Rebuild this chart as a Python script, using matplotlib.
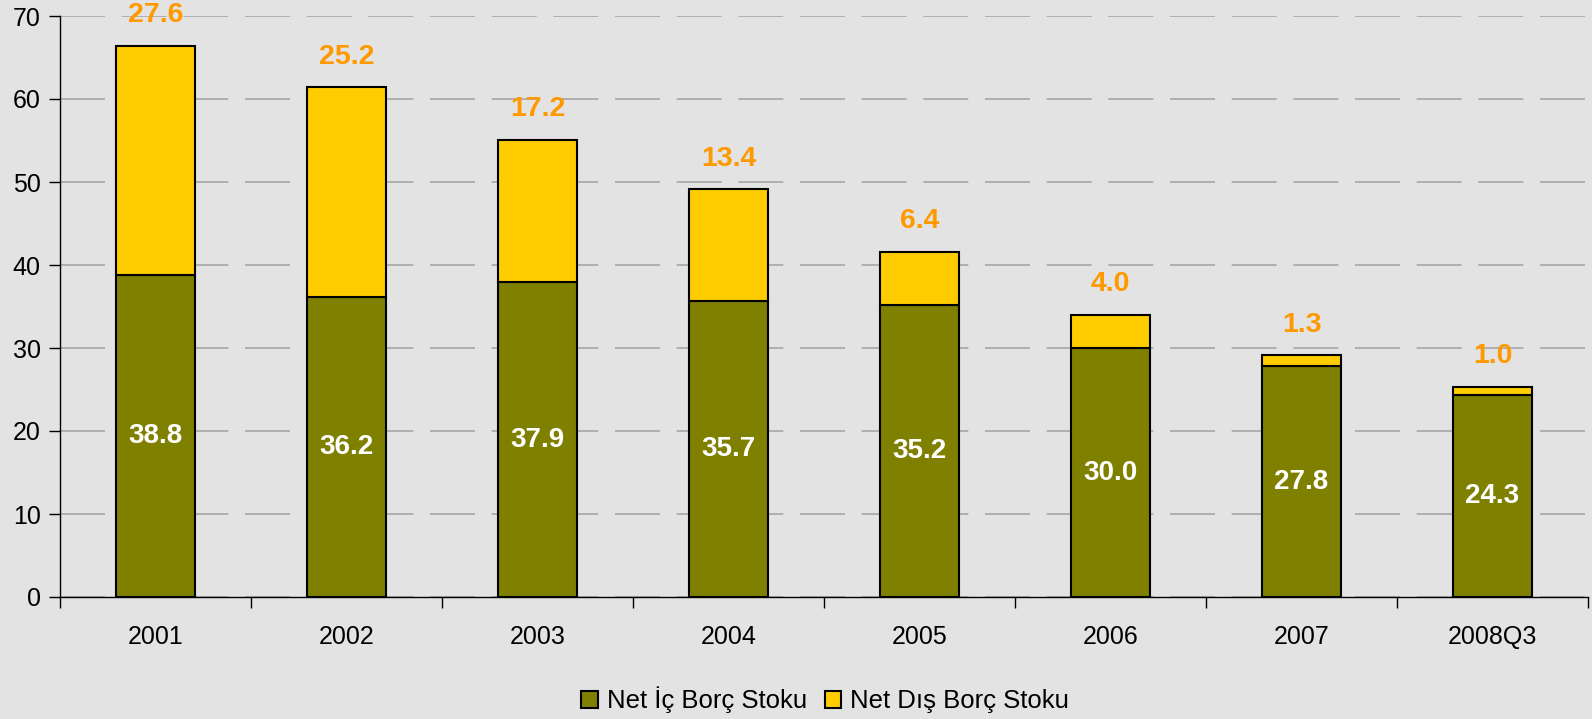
import matplotlib
matplotlib.use("Agg")
import matplotlib.pyplot as plt
import numpy as np

categories = ["2001", "2002", "2003", "2004", "2005", "2006", "2007", "2008Q3"]
ic_borc = [38.8, 36.2, 37.9, 35.7, 35.2, 30.0, 27.8, 24.3]
dis_borc = [27.6, 25.2, 17.2, 13.4, 6.4, 4.0, 1.3, 1.0]
yticks = [0, 10, 20, 30, 40, 50, 60, 70]

plt.rcParams['font.family'] = ['Liberation Sans', 'DejaVu Sans']
bg = '#E3E3E3'
fig = plt.figure(figsize=(15.92, 7.19), dpi=100, facecolor=bg)
ax = fig.add_axes([60/1592, 1-597/719, (1588-60)/1592, (597-16)/719])
ax.set_facecolor(bg)

x = np.arange(len(categories))
w = 0.41
b1 = ax.bar(x, ic_borc, w, color='#808000', edgecolor='black', linewidth=1.5, zorder=3, label='Net İç Borç Stoku')
b2 = ax.bar(x, dis_borc, w, bottom=ic_borc, color='#FFCC00', edgecolor='black', linewidth=1.5, zorder=3, label='Net Dış Borç Stoku')

for xi, a, b in zip(x, ic_borc, dis_borc):
    ax.text(xi, a/2, f"{a:.1f}", ha='center', va='center', color='white', fontsize=20, fontweight='bold', zorder=4)
    ax.annotate(f"{b:.1f}", (xi, a+b), xytext=(0, 22), textcoords='offset points', ha='center', va='center',
                color='#FF9900', fontsize=20.5, fontweight='bold', zorder=4, annotation_clip=False)

ax.set_xlim(-0.5, len(categories)-0.5)
ax.set_ylim(0, 70)
ax.set_yticks(yticks)
ax.set_xticks(np.arange(len(categories)+1)-0.5)
ax.set_xticklabels([])
ax.set_xticks(x, minor=True)
ax.set_xticklabels(categories, minor=True)
ax.tick_params(axis='x', which='major', length=8, direction='out', width=1)
ax.tick_params(axis='x', which='minor', length=0, pad=20, labelsize=18)
ax.tick_params(axis='y', length=8, direction='out', width=1, labelsize=18, pad=6)

ax.yaxis.grid(True, color='#A6A6A6', linestyle=(0, (27, 10)), linewidth=1.2, zorder=0)
ax.set_axisbelow(True)
for s in ['top', 'right']:
    ax.spines[s].set_visible(False)
ax.spines['left'].set_linewidth(1)
ax.spines['bottom'].set_linewidth(1)
ax.spines['left'].set_zorder(5)
ax.spines['bottom'].set_zorder(5)

fig.legend(handles=[b1, b2], loc='center', bbox_to_anchor=(825/1592, 1-700/719), ncol=2, frameon=False,
           fontsize=18.5, handlelength=0.65, handleheight=0.65, handletextpad=0.35, columnspacing=0.7)

fig.savefig('out.png', dpi=100, facecolor=bg)
